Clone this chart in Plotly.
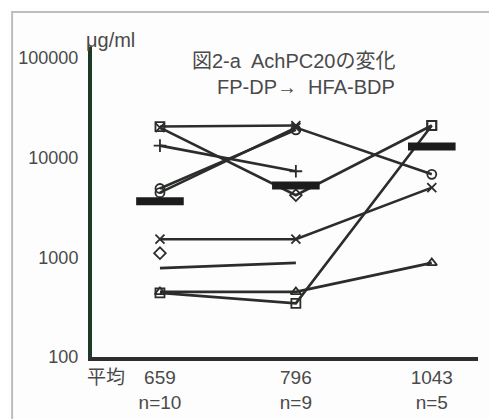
import plotly.graph_objects as go

# ---- data ----
periods = [0, 1, 2]
period_labels = ["659<br>n=10", "796<br>n=9", "1043<br>n=5"]
y_ticks = [100, 1000, 10000, 100000]
y_tick_labels = ["100", "1000", "10000", "100000"]

# individual patients (None = not measured)
p1 = [20500, 21000, None]
p2 = [20000, 4200, 21000]
p3 = [4450, 20000, 6800]
p4 = [4900, 19000, None]
p5 = [13200, 7300, None]
p6 = [1520, 1520, 5000]
p7 = [780, 880, None]
p8 = [450, 450, 880]
p9 = [440, 345, 21000]
p10 = [1100, None, None]

patients = [p1, p2, p3, p4, p5, p6, p7, p8, p9, p10]
symbols = [
    ["square-open", "x-thin-open", "x-thin-open"],
    ["x-thin-open", "diamond-open", "square-open"],
    ["circle-open", "x-thin-open", "circle-open"],
    ["circle-open", "circle-open", "circle-open"],
    ["cross-thin-open", "cross-thin-open", "cross-thin-open"],
    ["x-thin-open", "x-thin-open", "x-thin-open"],
    None,
    ["triangle-up-open", "triangle-up-open", "triangle-up-open"],
    ["square-open", "square-open", "square-open"],
    ["diamond-open", "diamond-open", "diamond-open"],
]

means = [3650, 5250, 12900]

FONT = "Liberation Sans, Arial, Noto Sans CJK JP, sans-serif"
LINE_C = "#2a2d2a"
TEXT_C = "#4a4a4a"

fig = go.Figure()
for vals, sym in zip(patients, symbols):
    fig.add_trace(go.Scatter(
        x=periods, y=vals,
        mode="lines" if sym is None else "lines+markers",
        line=dict(color=LINE_C, width=2.6),
        marker=dict(symbol=sym if sym else "circle", size=9,
                    color=LINE_C, line=dict(color=LINE_C, width=1.8)),
        connectgaps=False, showlegend=False, hoverinfo="skip",
    ))

fig.add_trace(go.Scatter(
    x=periods, y=means, mode="markers",
    marker=dict(symbol="line-ew-open", size=34, color="#1c1c1c",
                line=dict(color="#1c1c1c", width=8)),
    showlegend=False, hoverinfo="skip",
))

# note: the page body adds an 8px offset, margins compensate for it
fig.update_layout(
    width=497, height=419,
    margin=dict(l=84, r=27, t=39, b=70, autoexpand=False),
    paper_bgcolor="#fdfdfd", plot_bgcolor="#fdfdfd",
    font=dict(family=FONT, size=18, color=TEXT_C),
    xaxis=dict(
        range=[-0.5, 2.34], tickvals=periods, ticktext=period_labels,
        showgrid=False, zeroline=False, showline=True, automargin=False,
        linecolor="#2e2e2e", linewidth=4, ticks="",
        tickfont=dict(size=19, color=TEXT_C), ticklabelstandoff=0,
    ),
    yaxis=dict(
        type="log", range=[2, 5.11], tickvals=y_ticks, ticktext=y_tick_labels,
        showgrid=False, zeroline=False, showline=True, automargin=False,
        linecolor="#1d3a26", linewidth=4, ticks="",
        tickfont=dict(size=18, color=TEXT_C), ticklabelstandoff=6,
    ),
    shapes=[dict(type="rect", xref="paper", yref="paper",
                 x0=-0.207, x1=1.041, y0=-0.3, y1=1.113,
                 line=dict(color="#bdbdbd", width=2), fillcolor="rgba(0,0,0,0)",
                 layer="below")],
    annotations=[
        dict(text="μg/ml", xref="paper", yref="paper", x=-0.021, y=1.023,
             xanchor="left", yanchor="middle", showarrow=False,
             font=dict(size=20, color=TEXT_C)),
        dict(text="図2-a  AchPC20の変化", xref="paper", yref="paper",
             x=0.79, y=0.955, xanchor="right", yanchor="middle", showarrow=False,
             font=dict(size=20, color=TEXT_C)),
        dict(text="FP-DP→  HFA-BDP", xref="paper", yref="paper",
             x=0.79, y=0.87, xanchor="right", yanchor="middle", showarrow=False,
             font=dict(size=20, color=TEXT_C)),
        dict(text="平均", xref="paper", yref="paper",
             x=0.036, y=-0.065, xanchor="center", yanchor="middle", showarrow=False,
             font=dict(size=19, color=TEXT_C)),
    ],
)

fig.write_html("out.html")
